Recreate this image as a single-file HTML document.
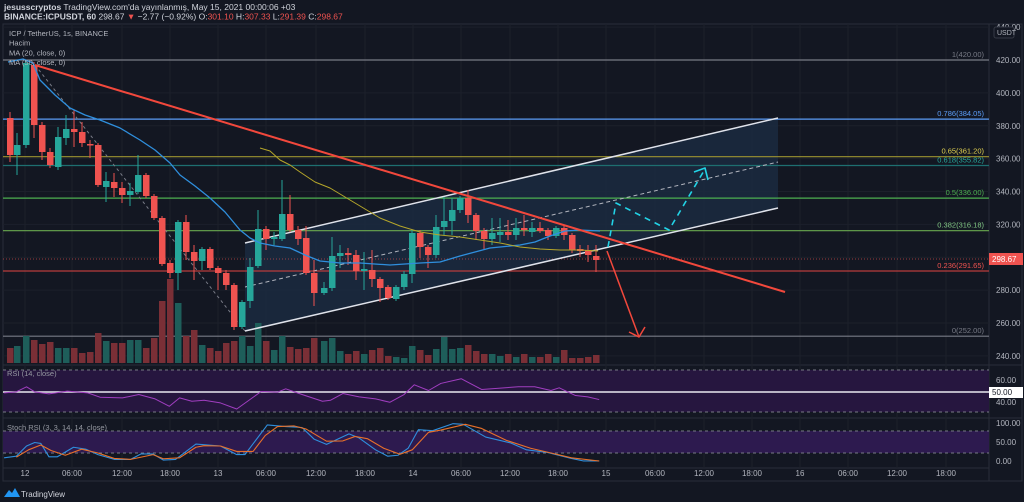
<!DOCTYPE html>
<html><head><meta charset="utf-8">
<style>
html,body{margin:0;padding:0;background:#131722;width:1024px;height:502px;overflow:hidden;font-family:"Liberation Sans",sans-serif;}
svg text{font-family:"Liberation Sans",sans-serif;}
</style></head>
<body>
<svg id="s" width="1024" height="502" viewBox="0 0 1024 502" xmlns="http://www.w3.org/2000/svg">
<rect width="1024" height="502" fill="#131722"/>
<text x="4" y="10" font-size="8.5" fill="#d1d4dc"><tspan font-weight="bold">jesusscryptos</tspan> TradingView.com'da yayınlanmış, May 15, 2021 00:00:06 +03</text>
<text x="4" y="19.5" font-size="8.5" fill="#d1d4dc"><tspan font-weight="bold">BINANCE:ICPUSDT, 60</tspan> 298.67 <tspan fill="#ef5350">▼</tspan> −2.77 (−0.92%) O:<tspan fill="#ef5350">301.10</tspan> H:<tspan fill="#ef5350">307.33</tspan> L:<tspan fill="#ef5350">291.39</tspan> C:<tspan fill="#ef5350">298.67</tspan></text>
<g id="g"></g>
</svg>
<script>
var NS="http://www.w3.org/2000/svg",G=document.getElementById('g');
function el(t,a,txt){var e=document.createElementNS(NS,t);for(var k in a)e.setAttribute(k,a[k]);if(txt)e.textContent=txt;G.appendChild(e);return e;}
function py(p){return 60+(420-p)*1.644;}
// frame
el('rect',{x:3,y:24,width:1019,height:457,fill:'none',stroke:'#2a2e39'});
el('line',{x1:989,y1:24,x2:989,y2:481,stroke:'#2a2e39'});
el('line',{x1:3,y1:365,x2:1022,y2:365,stroke:'#2a2e39'});
el('line',{x1:3,y1:418,x2:1022,y2:418,stroke:'#2a2e39'});
el('line',{x1:3,y1:468,x2:989,y2:468,stroke:'#2a2e39'});
// grid
var tx=[25,72,122,170,218,266,316,365,413,461,510,558,606,655,704,752,800,848,897,946];
var tl=['12','06:00','12:00','18:00','13','06:00','12:00','18:00','14','06:00','12:00','18:00','15','06:00','12:00','18:00','16','06:00','12:00','18:00'];
tx.forEach(function(x,i){el('line',{x1:x,y1:24,x2:x,y2:468,stroke:'#1c202b'});el('text',{x:x,y:476,'font-size':8,fill:'#b2b5be','text-anchor':'middle'},tl[i]);});
for(var p=240;p<=440;p+=20){var y=py(p);if(y>26){el('line',{x1:3,y1:y,x2:989,y2:y,stroke:'#1c202b'});el('text',{x:996,y:y+3,'font-size':8,fill:'#b2b5be'},p.toFixed(2));}}
el('rect',{x:994,y:27,width:20,height:11,rx:2,fill:'#131722',stroke:'#363a45'});
el('text',{x:997,y:35,'font-size':7,fill:'#b2b5be'},'USDT');
// channel fill
el('polygon',{points:'245,243 778,118 778,208 245,331',fill:'#1b2a40',opacity:0.85});
// fib lines
var fib=[[420,'#787b86','1(420.00)'],[384.05,'#5b9cf6','0.786(384.05)'],[361.2,'#9c9330','0.65(361.20)'],[355.82,'#1e6f70','0.618(355.82)'],[336,'#4caf50','0.5(336.00)'],[316.18,'#6aa84f','0.382(316.18)'],[291.65,'#b83c3c','0.236(291.65)'],[252,'#787b86','0(252.00)']];
var fc=['#787b86','#5b9cf6','#e0d050','#26a69a','#4caf50','#81c784','#ef5350','#787b86'];
fib.forEach(function(f,i){var y=py(f[0]);el('line',{x1:3,y1:y,x2:989,y2:y,stroke:f[1],'stroke-width':1.2});el('text',{x:984,y:y-3,'font-size':7.5,fill:fc[i],'text-anchor':'end'},f[2]);});
el('line',{x1:3,y1:259,x2:989,y2:259,stroke:'#ef5350','stroke-dasharray':'1,2',opacity:0.6});
// volume
var C=[[10,0,118,155,112,162],[17,1,145,155,133,175],[26,1,63,145,60,148],[34,0,65,125,62,138],[42,0,125,152,122,160],[50,0,152,165,148,168],[58,1,137,167,127,170],[66,1,129,138,115,145],[74,0,129,132,110,147],[82,0,132,143,122,147],[90,0,144,145,140,158],[98,0,145,185,143,187],[106,1,181,187,172,202],[114,0,182,188,173,197],[122,0,188,195,182,203],[130,1,191,195,183,206],[138,1,175,192,155,194],[146,0,175,196,173,198],[154,0,196,218,194,220],[162,0,218,264,216,266],[170,0,263,273,260,278],[178,1,222,273,220,290],[186,0,222,252,215,260],[194,0,252,261,245,280],[202,1,249,261,247,270],[210,0,249,268,247,270],[218,0,268,273,266,290],[226,0,273,285,270,290],[234,0,285,327,283,330],[242,1,302,327,300,329],[250,1,267,301,258,308],[258,1,229,266,210,268],[266,0,229,239,226,250],[274,1,237,239,232,245],[282,1,214,239,180,241],[290,0,214,230,195,232],[298,0,230,239,226,245],[306,0,238,273,226,275],[314,0,273,293,260,306],[324,1,288,293,282,295],[332,1,256,288,237,291],[340,1,253,256,245,268],[348,0,253,255,248,265],[356,0,255,271,250,280],[364,1,269,271,252,290],[372,0,270,279,250,287],[380,0,279,288,277,302],[388,0,287,298,285,300],[396,1,287,299,285,301],[404,1,274,287,271,290],[412,1,233,274,230,283],[420,0,233,247,230,258],[428,0,247,255,245,268],[436,1,227,255,215,258],[444,1,221,227,197,235],[452,1,210,221,198,235],[460,1,198,210,196,213],[468,0,198,215,190,223],[476,0,215,231,213,240],[484,0,231,239,228,250],[492,1,233,239,218,245],[500,1,232,235,218,242],[508,0,232,235,220,240],[516,1,228,235,218,240],[524,0,228,230,215,236],[532,1,228,232,222,237],[540,0,228,231,222,233],[548,0,230,236,228,240],[556,1,228,236,226,238],[564,0,228,235,226,240],[572,0,235,250,233,253],[580,0,249,251,245,257],[588,0,250,255,245,262],[596,0,256,260,245,272]];
var V=[348,346,336,340,344,342,348,348,348,353,352,333,341,343,343,340,340,348,338,301,279,303,336,330,345,348,351,343,341,336,346,323,341,350,336,347,349,348,338,341,338,351,354,351,354,350,348,356,357,358,346,350,355,349,337,349,348,345,351,354,354,356,354,357,354,357,357,354,357,350,358,358,357];
C.forEach(function(c,i){var v=V[i]||355;el('rect',{x:c[0]-3,y:v,width:6.5,height:363-v,fill:c[1]?'#1e5e5a':'#7a2f36'});});
// lines
function pl(pts,st,w,extra){var a={points:pts.map(function(p){return p.join(',')}).join(' '),fill:'none',stroke:st,'stroke-width':w,'stroke-linejoin':'round'};for(var k in extra)a[k]=extra[k];el('polyline',a);}
pl([[35,65],[245,331]],'#787b86',1,{'stroke-dasharray':'3,3'});
pl([[245,287],[778,162]],'#b2b5be',1,{'stroke-dasharray':'4,3'});
pl([[245,243],[778,118]],'#e0e3eb',1.5);
pl([[245,331],[778,208]],'#e0e3eb',1.5);
// candles
C.forEach(function(c){var col=c[1]?'#26a69a':'#ef5350';el('line',{x1:c[0],y1:c[4],x2:c[0],y2:c[5],stroke:col,'stroke-width':1});el('rect',{x:c[0]-3,y:c[2],width:6.5,height:Math.max(1.5,c[3]-c[2]),fill:col});});
pl([[8,62],[23,59],[33,63],[40,80],[55,95],[70,108],[85,115],[100,120],[120,128],[140,140],[155,150],[170,163],[180,175],[195,186],[210,198],[225,212],[240,230],[250,238],[260,243],[275,246],[290,248],[305,255],[320,261],[340,263],[360,263],[390,265],[420,263],[440,262],[460,256],[490,248],[520,245],[535,242],[550,236],[565,231],[580,230],[600,231]],'#2f8fdd',1.3);
pl([[260,148],[270,151],[280,160],[290,165],[300,172],[315,182],[330,188],[350,200],[380,218],[400,226],[420,232],[440,235],[460,237],[480,240],[500,243],[520,247],[540,249],[560,250],[580,250],[598,251]],'#b5a62a',1);
pl([[35,65],[785,292]],'#f2483c',2);
pl([[607,251],[639,337]],'#f2483c',1.5);pl([[629,332],[639,337],[645,327]],'#f2483c',1.5);
pl([[608,247],[616,203],[669,230],[705,169]],'#22d3e6',1.6,{'stroke-dasharray':'6,5'});
pl([[694,172],[705,168],[708,180]],'#22d3e6',1.6);
// price label
el('rect',{x:989,y:253,width:34,height:12,fill:'#ef5350'});
el('text',{x:992,y:262,'font-size':8,fill:'#fff'},'298.67');
// legend
['ICP / TetherUS, 1s, BINANCE','Hacim','MA (20, close, 0)','MA (50, close, 0)'].forEach(function(t,i){el('text',{x:9,y:36+i*9.7,'font-size':7.5,fill:'#b2b5be'},t);});
// RSI pane
el('rect',{x:3,y:370,width:986,height:42,fill:'#26163f'});
el('line',{x1:3,y1:370,x2:989,y2:370,stroke:'#787b86','stroke-dasharray':'3,3'});
el('line',{x1:3,y1:412,x2:989,y2:412,stroke:'#787b86','stroke-dasharray':'3,3'});
el('line',{x1:3,y1:392,x2:989,y2:392,stroke:'#e8e8f0','stroke-width':1.5});
el('text',{x:7,y:376,'font-size':7.5,fill:'#9598a1'},'RSI (14, close)');
var R=[[10,100],[40,97],[65,82],[85,97],[120,103],[165,95],[215,100],[245,113],[300,115],[340,105],[380,118],[415,140],[440,115],[470,125],[500,122],[540,130],[580,148],[640,96],[680,98],[700,88],[740,105],[790,125],[810,122],[840,102],[880,112],[920,118],[955,128],[990,105],[1015,76],[1050,93],[1080,72],[1130,58],[1180,90],[1270,82],[1310,82],[1350,93],[1370,85],[1410,108],[1440,112],[1468,120]];
pl(R.map(function(p){return [p[0]/2.45,370+(p[1]-32)*0.336]}),'#a03ec0',1);
el('text',{x:996,y:383,'font-size':8,fill:'#b2b5be'},'60.00');
el('text',{x:996,y:405,'font-size':8,fill:'#b2b5be'},'40.00');
el('rect',{x:989,y:387,width:34,height:11,fill:'#fff'});
el('text',{x:992,y:395,'font-size':8,fill:'#131722'},'50.00');
// Stoch
el('rect',{x:3,y:431,width:986,height:22,fill:'#2d1a4f'});
el('line',{x1:3,y1:431,x2:989,y2:431,stroke:'#787b86','stroke-dasharray':'3,3'});
el('line',{x1:3,y1:453,x2:989,y2:453,stroke:'#787b86','stroke-dasharray':'3,3'});
el('text',{x:7,y:430,'font-size':7.5,fill:'#9598a1'},'Stoch RSI (3, 3, 14, 14, close)');
function sm(a){return a.map(function(p){return [p[0]/2.45,431+(p[1]-211)*0.319]});}
pl(sm([[10,295],[40,290],[65,258],[85,247],[100,250],[120,292],[140,292],[180,262],[210,268],[240,285],[280,300],[320,300],[345,283],[375,283],[400,302],[430,300],[480,252],[540,258],[580,285],[600,285],[655,192],[700,197],[740,200],[770,237],[800,253],[830,235],[855,220],[880,233],[920,270],[950,290],[975,287],[1000,265],[1025,207],[1060,210],[1110,188],[1135,190],[1190,230],[1250,248],[1290,270],[1340,278],[1400,297],[1430,305],[1468,305]]),'#2f8fdd',1.1);
pl(sm([[40,293],[70,270],[100,255],[125,272],[160,287],[200,268],[240,280],[280,297],[320,300],[375,285],[400,298],[440,295],[480,262],[500,257],[540,258],[580,275],[620,275],[650,225],[680,197],[720,195],[750,205],[800,243],[840,242],[870,228],[900,235],[940,265],[980,284],[1010,270],[1050,215],[1080,208],[1140,190],[1180,203],[1240,240],[1300,265],[1350,280],[1400,295],[1468,305]]),'#e8702a',1.1);
el('text',{x:996,y:426,'font-size':8,fill:'#b2b5be'},'100.00');
el('text',{x:996,y:445,'font-size':8,fill:'#b2b5be'},'50.00');
el('text',{x:996,y:464,'font-size':8,fill:'#b2b5be'},'0.00');
// footer
el('path',{d:'M4 497 L9 490 L12 493 L15 488 L20 497 Z',fill:'#2196f3'});
el('text',{x:21,y:497,'font-size':8,fill:'#d1d4dc'},'TradingView');
</script>
</body></html>
